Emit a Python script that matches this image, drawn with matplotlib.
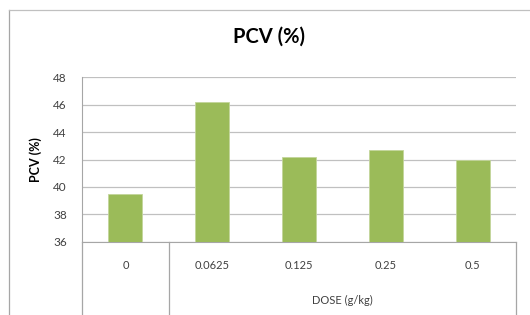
import matplotlib.pyplot as plt
from matplotlib.lines import Line2D
import matplotlib.transforms as mtransforms

doses = ['0', '0.0625', '0.125', '0.25', '0.5']
pcv = [39.5, 46.2, 42.2, 42.7, 42.0]
y_ticks = [36, 38, 40, 42, 44, 46, 48]

plt.rcParams['font.family'] = ['Lato', 'DejaVu Sans']

fig = plt.figure(figsize=(5.3, 3.15), dpi=100)
ax = fig.add_axes([0.1547, 0.2327, 0.819, 0.5214])

x = list(range(len(doses)))
ax.bar(x, [v - 36 for v in pcv], bottom=36, width=0.39, color='#9BBB59',
       edgecolor='#C3D69B', linewidth=0.6, zorder=3)

ax.set_xlim(-0.5, len(doses) - 0.5)
ax.set_ylim(36, 48)
ax.set_yticks(y_ticks)
ax.set_yticklabels([str(t) for t in y_ticks], fontsize=8.5, color='#404040')
ax.tick_params(axis='y', length=0, pad=11)
ax.set_xticks([])
ax.grid(axis='y', color='#C0C0C0', linewidth=0.9, zorder=0)

for s in ['top', 'right']:
    ax.spines[s].set_visible(False)
ax.spines['left'].set_color('#A6A6A6')
ax.spines['bottom'].set_color('#A6A6A6')

ax.set_ylabel('PCV (%)', fontsize=9, fontweight='bold', labelpad=8)
fig.text(0.508, 0.883, 'PCV (%)', fontsize=14.5, fontweight='bold',
         ha='center', va='center')

# category table under the axis
trans = mtransforms.blended_transform_factory(ax.transData, ax.transAxes)
for xv in [-0.5, 0.5, 4.5]:
    ax.add_line(Line2D([xv, xv], [0, -0.5], transform=trans, color='#A6A6A6',
                       linewidth=0.9, clip_on=False))
for i, d in enumerate(doses):
    ax.text(i, -0.142, d, transform=trans, ha='center', va='center',
            fontsize=8, color='#404040')
ax.text(2.5, -0.355, 'DOSE (g/kg)', transform=trans, ha='center', va='center',
        fontsize=8, color='#404040')

# chart frame edges
fig.add_artist(Line2D([0.017, 0.017], [0, 0.968], transform=fig.transFigure,
                      color='#A6A6A6', linewidth=0.9))
fig.add_artist(Line2D([0.017, 1.0], [0.968, 0.968], transform=fig.transFigure,
                      color='#C0C0C0', linewidth=0.9))

fig.savefig('out.png', dpi=100)
